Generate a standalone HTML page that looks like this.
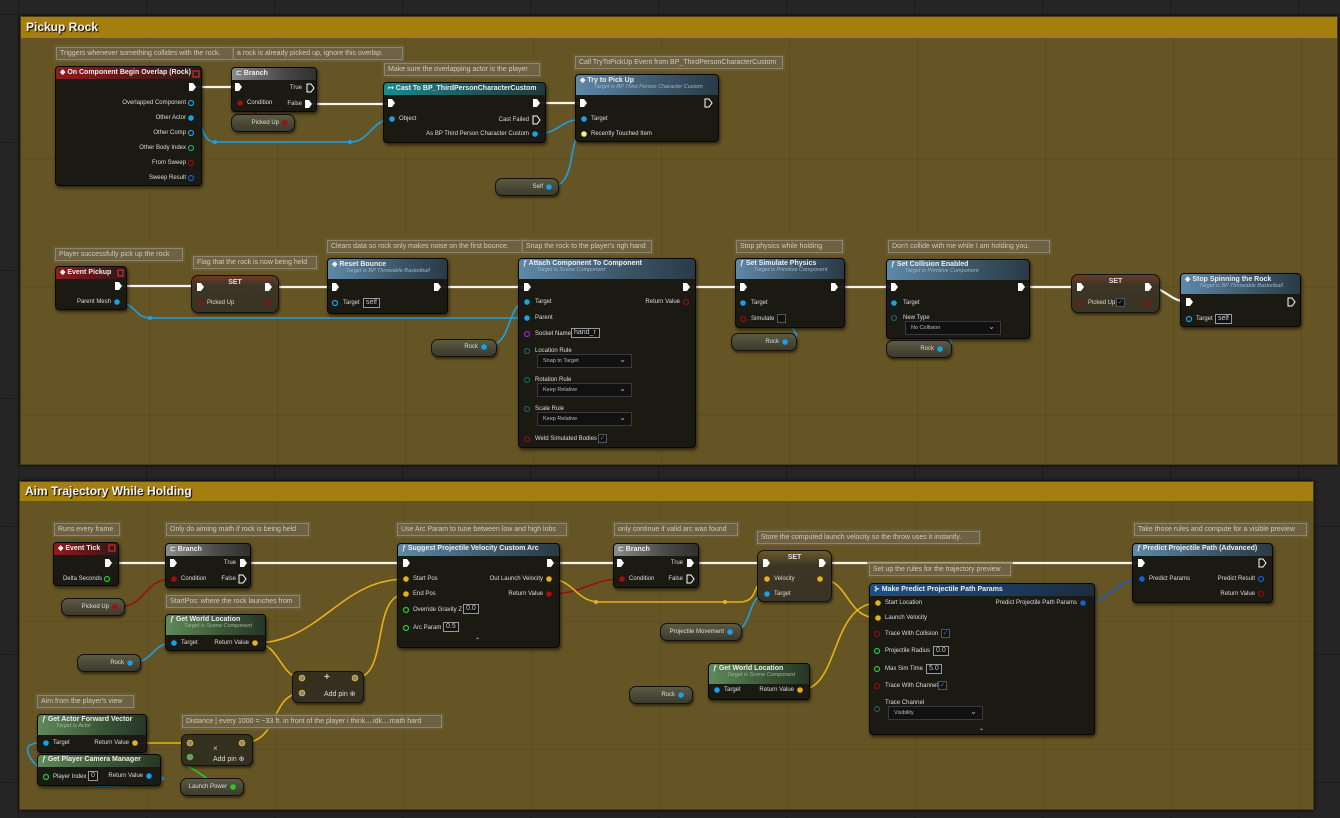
<!DOCTYPE html>
<html><head><meta charset="utf-8"><style>
*{margin:0;padding:0;box-sizing:border-box}
body{width:1340px;height:818px;overflow:hidden;position:relative;background:#252525;font-family:"Liberation Sans",sans-serif;color:#ddd}
.grid{position:absolute;inset:0;background-image:linear-gradient(#1c1c1c 1px,transparent 1px),linear-gradient(90deg,#1c1c1c 1px,transparent 1px);background-size:128px 128px;background-position:18px 14px}
.cb{position:absolute;background:#655424;border:1px solid #4a3e18;box-shadow:0 0 3px #000}
.cb .ch{height:21px;background:#a57e10;color:#f2f2f2;font-weight:bold;font-size:12px;padding:3px 5px;text-shadow:1px 1px 1px #000}
.cgrid{position:absolute;inset:22px 0 0 0;background-image:linear-gradient(rgba(0,0,0,.07) 1px,transparent 1px),linear-gradient(90deg,rgba(0,0,0,.07) 1px,transparent 1px);background-size:128px 128px;background-position:0 -8px}
.cm{position:absolute;height:13px;background:#6e6242;border:1px solid #8d8670;outline:2px solid rgba(110,100,70,.6);color:#cfc9b8;font-size:7px;line-height:11px;padding:0 3px;white-space:nowrap}
.n{position:absolute;background:rgba(22,22,18,.95);border:1px solid #070707;border-radius:4px;box-shadow:1px 2px 3px rgba(0,0,0,.6);overflow:hidden}
.h{height:12px;font-size:7px;font-weight:bold;color:#eee;padding:1px 4px;white-space:nowrap}
.h2{height:20px}
.h2 i{display:block;font-size:5.5px;font-weight:normal;color:#9cb5c8;padding-left:14px;font-style:italic}
.ev{background:linear-gradient(90deg,#8f1c1c,#5a1616 60%,#2a1a18)}
.br{background:linear-gradient(90deg,#8a8a8a,#4a4a4a 60%,#303030)}
.fn{background:linear-gradient(90deg,#5f89a8,#3b5668 60%,#2a3a46)}
.ca{background:linear-gradient(90deg,#1b8a8f,#1c5357 60%,#20393a)}
.pu{background:linear-gradient(90deg,#5f8a5a,#3a5436 60%,#263626)}
.pu i{color:#9fb897}
.mk{background:linear-gradient(90deg,#1f4f86,#1b3a5e 60%,#1e2c3c)}
.v{position:absolute;height:18px;border-radius:7px;background:linear-gradient(#5a5a44,#3c3a2c);border:1px solid #111;box-shadow:1px 2px 2px rgba(0,0,0,.5)}
.set{position:absolute;border-radius:7px;background:linear-gradient(#6a3a2a,#3c3424 30%,#3a3424);border:1px solid #111;box-shadow:1px 2px 2px rgba(0,0,0,.5);font-size:7px;font-weight:bold;text-align:center;color:#ddd;padding-top:3px}
.op{position:absolute;border-radius:6px;background:#33301f;border:1px solid #111;box-shadow:1px 2px 2px rgba(0,0,0,.5)}
.t{position:absolute;font-size:6px;white-space:nowrap;color:#ddd;line-height:8px}
.r{transform:translateX(-100%)}
.bx{position:absolute;border:1px solid #999;font-size:7px;line-height:8px;height:10px;padding:0 2px;color:#ccc;background:#111}
.dd{position:absolute;height:14px;background:#111;border:1px solid #3a3a3a;font-size:5.5px;color:#bbb;padding:3px 5px}
.dd:after{content:"⌄";position:absolute;right:5px;top:0px;font-size:8px}
.ck{position:absolute;width:9px;height:9px;background:#111;border:1px solid #555;font-size:7px;line-height:8px;color:#2a7dd8;text-align:center}
svg{position:absolute;left:0;top:0}
</style></head><body>
<div class="grid"></div>
<div class="cb" style="left:20px;top:16px;width:1318px;height:449px"><div class="ch">Pickup Rock</div><div class="cgrid"></div></div>
<div class="cb" style="left:19px;top:481px;width:1295px;height:329px"><div class="ch" style="height:19px;padding-top:2px">Aim Trajectory While Holding</div><div class="cgrid" style="top:19px"></div></div>

<!-- wires -->
<svg width="1340" height="818" fill="none">
<g stroke="#f4f4f4" stroke-width="2.2">
<path d="M192 87H238"/><path d="M308 104H391"/><path d="M536 103H583"/>
<path d="M118 286H200M268 287H335M437 287H527M686 287H743M834 287H894M1021 287H1080"/>
<path d="M1148 287C1165 287 1170 302 1189 302"/>
<path d="M108 563H173M243 563H406M550 563H620M690 563H766M822 563H1141"/>
</g>
<g stroke="#1aa0e8" stroke-width="1.6">
<path d="M191 118C205 118 200 142 215 142H350C370 142 372 119 392 119"/>
<path d="M535 134C560 134 560 119 584 119"/>
<path d="M549 187C580 187 565 134 584 134"/>
<path d="M117 302C135 302 135 318 150 318H505C520 318 515 318 527 318"/>
<path d="M484 347C515 347 505 302 527 302"/>
<path d="M785 342C810 342 790 318 760 310C730 300 735 303 743 303"/>
<path d="M940 349C965 349 945 325 905 312C880 303 885 303 894 303"/>
<path d="M130 663C155 663 150 643 174 643"/>
<path d="M730 632C755 632 745 594 767 594"/>
<path d="M149 776C180 776 160 786 100 786C40 786 20 750 30 745C36 742 40 743 46 743"/>
</g>
<path d="M1083 603C1110 603 1115 579 1142 579" stroke="#1a5fd0" stroke-width="1.6"/>
<g stroke="#9a1010" stroke-width="1.6">
<path d="M285 123C260 123 255 110 240 103"/>
<path d="M115 607C150 607 140 579 174 579"/>
<path d="M549 594C585 594 590 579 622 579"/>
</g>
<g stroke="#e6b21a" stroke-width="1.6">
<path d="M255 643C320 643 340 579 406 579"/>
<path d="M255 643C280 643 280 678 302 678"/>
<path d="M355 678C390 678 370 594 406 594"/>
<path d="M242 743C280 743 270 693 302 693"/>
<path d="M135 743H190"/>
<path d="M549 579C575 579 575 602 600 602H740C760 602 752 579 767 579"/>
<path d="M820 579C850 579 845 618 878 618"/>
<path d="M800 690C840 690 830 603 878 603"/>
</g>
<path d="M233 787C210 787 200 770 185 765C180 760 182 757 190 757" stroke="#2ec62e" stroke-width="1.6"/>
</svg>

<!-- comments -->
<div class="cm" style="left:56px;top:47px;width:177px">Triggers whenever something collides with the rock.</div>
<div class="cm" style="left:233px;top:47px;width:170px">a rock is already picked up, ignore this overlap.</div>
<div class="cm" style="left:384px;top:63px;width:156px">Make sure the overlapping actor is the player</div>
<div class="cm" style="left:575px;top:56px;width:208px">Call TryToPickUp Event from BP_ThirdPersonCharacterCustom</div>
<div class="cm" style="left:55px;top:248px;width:128px">Player successfully pick up the rock</div>
<div class="cm" style="left:193px;top:256px;width:124px">Flag that the rock is now being held</div>
<div class="cm" style="left:327px;top:240px;width:195px">Clears data so rock only makes noise on the first bounce.</div>
<div class="cm" style="left:522px;top:240px;width:130px">Snap the rock to the player's righ hand</div>
<div class="cm" style="left:736px;top:240px;width:107px">Stop physics while holding</div>
<div class="cm" style="left:888px;top:240px;width:162px">Don't collide with me while I am holding you.</div>
<div class="cm" style="left:54px;top:523px;width:66px">Runs every frame</div>
<div class="cm" style="left:166px;top:523px;width:143px">Only do aiming math if rock is being held</div>
<div class="cm" style="left:166px;top:595px;width:134px">StartPos: where the rock launches from</div>
<div class="cm" style="left:37px;top:695px;width:97px">Aim from the player's view</div>
<div class="cm" style="left:182px;top:715px;width:260px">Distance | every 1000 = ~33 ft. in front of the player i think....idk....math hard</div>
<div class="cm" style="left:397px;top:523px;width:170px">Use Arc Param to tune between low and high lobs</div>
<div class="cm" style="left:614px;top:523px;width:124px">only continue if valid arc was found</div>
<div class="cm" style="left:757px;top:531px;width:223px">Store the computed launch velocity so the throw uses it instantly.</div>
<div class="cm" style="left:869px;top:563px;width:142px">Set up the rules for the trajectory preview</div>
<div class="cm" style="left:1134px;top:523px;width:173px">Take those rules and compute for a visible preview</div>

<!-- nodes top -->
<div class="n" style="left:55px;top:66px;width:147px;height:120px"><div class="h ev">◆ On Component Begin Overlap (Rock)</div></div>
<div class="n" style="left:231px;top:67px;width:86px;height:45px"><div class="h br">⊏ Branch</div></div>
<div class="v" style="left:231px;top:114px;width:64px"></div>
<div class="n" style="left:383px;top:82px;width:163px;height:61px"><div class="h ca">↦ Cast To BP_ThirdPersonCharacterCustom</div></div>
<div class="n" style="left:575px;top:74px;width:144px;height:68px"><div class="h h2 fn">◆ Try to Pick Up<i>Target is BP Third Person Character Custom</i></div></div>
<div class="v" style="left:495px;top:178px;width:64px"></div>

<div class="n" style="left:55px;top:266px;width:72px;height:44px"><div class="h ev">◆ Event Pickup</div></div>
<div class="set" style="left:191px;top:275px;width:88px;height:38px">SET</div>
<div class="n" style="left:327px;top:258px;width:121px;height:56px"><div class="h h2 fn">◆ Reset Bounce<i>Target is BP Throwable Basketball</i></div></div>
<div class="v" style="left:431px;top:339px;width:66px"></div>
<div class="n" style="left:518px;top:258px;width:178px;height:190px"><div class="h h2 fn">ƒ Attach Component To Component<i>Target is Scene Component</i></div></div>
<div class="n" style="left:735px;top:258px;width:110px;height:70px"><div class="h h2 fn">ƒ Set Simulate Physics<i>Target is Primitive Component</i></div></div>
<div class="v" style="left:731px;top:333px;width:66px"></div>
<div class="n" style="left:886px;top:259px;width:144px;height:80px"><div class="h h2 fn">ƒ Set Collision Enabled<i>Target is Primitive Component</i></div></div>
<div class="v" style="left:886px;top:340px;width:66px"></div>
<div class="set" style="left:1071px;top:274px;width:89px;height:39px">SET</div>
<div class="n" style="left:1180px;top:273px;width:121px;height:54px"><div class="h h2 fn">◆ Stop Spinning the Rock<i>Target is BP Throwable Basketball</i></div></div>

<!-- nodes bottom -->
<div class="n" style="left:53px;top:542px;width:66px;height:44px"><div class="h ev">◆ Event Tick</div></div>
<div class="n" style="left:165px;top:543px;width:86px;height:45px"><div class="h br">⊏ Branch</div></div>
<div class="v" style="left:61px;top:598px;width:64px"></div>
<div class="n" style="left:165px;top:614px;width:101px;height:37px"><div class="h h2 pu">ƒ Get World Location<i>Target is Scene Component</i></div></div>
<div class="v" style="left:77px;top:654px;width:64px"></div>
<div class="op" style="left:292px;top:671px;width:72px;height:32px"></div>
<div class="n" style="left:37px;top:714px;width:110px;height:39px"><div class="h h2 pu">ƒ Get Actor Forward Vector<i>Target is Actor</i></div></div>
<div class="n" style="left:37px;top:754px;width:124px;height:32px"><div class="h pu">ƒ Get Player Camera Manager</div></div>
<div class="op" style="left:181px;top:734px;width:72px;height:32px"></div>
<div class="v" style="left:180px;top:778px;width:64px"></div>
<div class="n" style="left:397px;top:543px;width:163px;height:105px"><div class="h fn">ƒ Suggest Projectile Velocity Custom Arc</div></div>
<div class="n" style="left:613px;top:543px;width:86px;height:45px"><div class="h br">⊏ Branch</div></div>
<div class="set" style="left:757px;top:550px;width:75px;height:52px;background:linear-gradient(#6a5a2a,#3c3424 30%,#3a3424)">SET</div>
<div class="v" style="left:660px;top:623px;width:82px"></div>
<div class="n" style="left:869px;top:583px;width:226px;height:152px"><div class="h mk">⊱ Make Predict Projectile Path Params</div></div>
<div class="n" style="left:708px;top:663px;width:102px;height:37px"><div class="h h2 pu">ƒ Get World Location<i>Target is Scene Component</i></div></div>
<div class="v" style="left:629px;top:686px;width:64px"></div>
<div class="n" style="left:1132px;top:543px;width:141px;height:60px"><div class="h fn">ƒ Predict Projectile Path (Advanced)</div></div>

<!-- labels -->
<div class="t r" style="left:186px;top:99px">Overlapped Component</div>
<div class="t r" style="left:186px;top:114px">Other Actor</div>
<div class="t r" style="left:186px;top:129px">Other Comp</div>
<div class="t r" style="left:186px;top:144px">Other Body Index</div>
<div class="t r" style="left:186px;top:159px">From Sweep</div>
<div class="t r" style="left:186px;top:174px">Sweep Result</div>
<div class="t r" style="left:302px;top:84px">True</div>
<div class="t" style="left:247px;top:99px">Condition</div>
<div class="t r" style="left:302px;top:100px">False</div>
<div class="t r" style="left:279px;top:119px">Picked Up</div>
<div class="t" style="left:399px;top:115px">Object</div>
<div class="t r" style="left:529px;top:116px">Cast Failed</div>
<div class="t r" style="left:529px;top:130px">As BP Third Person Character Custom</div>
<div class="t" style="left:591px;top:115px">Target</div>
<div class="t" style="left:591px;top:130px">Recently Touched Item</div>
<div class="t r" style="left:543px;top:183px">Self</div>

<div class="t r" style="left:111px;top:298px">Parent Mesh</div>
<div class="t" style="left:207px;top:299px">Picked Up</div>
<div class="t" style="left:343px;top:299px">Target</div>
<div class="bx" style="left:363px;top:298px">self</div>
<div class="t r" style="left:478px;top:343px">Rock</div>
<div class="t" style="left:535px;top:298px">Target</div>
<div class="t" style="left:535px;top:314px">Parent</div>
<div class="t" style="left:535px;top:330px">Socket Name</div>
<div class="bx" style="left:571px;top:328px;width:29px">hand_r</div>
<div class="t r" style="left:680px;top:298px">Return Value</div>
<div class="t" style="left:535px;top:347px">Location Rule</div>
<div class="dd" style="left:537px;top:354px;width:95px">Snap to Target</div>
<div class="t" style="left:535px;top:376px">Rotation Rule</div>
<div class="dd" style="left:537px;top:383px;width:95px">Keep Relative</div>
<div class="t" style="left:535px;top:405px">Scale Rule</div>
<div class="dd" style="left:537px;top:412px;width:95px">Keep Relative</div>
<div class="t" style="left:535px;top:435px">Weld Simulated Bodies</div>
<div class="ck" style="left:598px;top:434px">✓</div>
<div class="t" style="left:751px;top:299px">Target</div>
<div class="t" style="left:751px;top:315px">Simulate</div>
<div class="ck" style="left:777px;top:314px"></div>
<div class="t r" style="left:779px;top:338px">Rock</div>
<div class="t" style="left:903px;top:299px">Target</div>
<div class="t" style="left:903px;top:314px">New Type</div>
<div class="dd" style="left:905px;top:321px;width:96px">No Collision</div>
<div class="t r" style="left:934px;top:345px">Rock</div>
<div class="t" style="left:1088px;top:299px">Picked Up</div>
<div class="ck" style="left:1116px;top:298px">✓</div>
<div class="t" style="left:1196px;top:315px">Target</div>
<div class="bx" style="left:1215px;top:314px">self</div>

<div class="t r" style="left:102px;top:575px">Delta Seconds</div>
<div class="t r" style="left:236px;top:559px">True</div>
<div class="t" style="left:181px;top:575px">Condition</div>
<div class="t r" style="left:236px;top:575px">False</div>
<div class="t r" style="left:109px;top:603px">Picked Up</div>
<div class="t" style="left:181px;top:639px">Target</div>
<div class="t r" style="left:249px;top:639px">Return Value</div>
<div class="t r" style="left:124px;top:659px">Rock</div>
<div class="t" style="left:324px;top:674px;font-size:10px;font-weight:bold;color:#ccc">+</div>
<div class="t" style="left:324px;top:691px;font-size:7px">Add pin ⊕</div>
<div class="t" style="left:53px;top:739px">Target</div>
<div class="t r" style="left:129px;top:739px">Return Value</div>
<div class="t" style="left:53px;top:773px">Player Index</div>
<div class="bx" style="left:88px;top:771px">0</div>
<div class="t r" style="left:143px;top:772px">Return Value</div>
<div class="t" style="left:213px;top:745px;font-size:8px;color:#ccc">×</div>
<div class="t" style="left:213px;top:756px;font-size:7px">Add pin ⊕</div>
<div class="t r" style="left:227px;top:783px">Launch Power</div>
<div class="t" style="left:413px;top:575px">Start Pos</div>
<div class="t" style="left:413px;top:590px">End Pos</div>
<div class="t" style="left:413px;top:606px">Override Gravity Z</div>
<div class="bx" style="left:463px;top:604px">0.0</div>
<div class="t" style="left:413px;top:624px">Arc Param</div>
<div class="bx" style="left:443px;top:622px">0.5</div>
<div class="t" style="left:475px;top:637px">⌃</div>
<div class="t r" style="left:543px;top:575px">Out Launch Velocity</div>
<div class="t r" style="left:543px;top:590px">Return Value</div>
<div class="t r" style="left:683px;top:559px">True</div>
<div class="t" style="left:629px;top:575px">Condition</div>
<div class="t r" style="left:683px;top:575px">False</div>
<div class="t" style="left:774px;top:575px">Velocity</div>
<div class="t" style="left:774px;top:590px">Target</div>
<div class="t r" style="left:724px;top:628px">Projectile Movement</div>
<div class="t" style="left:885px;top:599px">Start Location</div>
<div class="t" style="left:885px;top:614px">Launch Velocity</div>
<div class="t" style="left:885px;top:630px">Trace With Collision</div>
<div class="ck" style="left:941px;top:629px">✓</div>
<div class="t" style="left:885px;top:647px">Projectile Radius</div>
<div class="bx" style="left:933px;top:646px">0.0</div>
<div class="t" style="left:885px;top:665px">Max Sim Time</div>
<div class="bx" style="left:926px;top:664px">5.0</div>
<div class="t" style="left:885px;top:682px">Trace With Channel</div>
<div class="ck" style="left:938px;top:681px">✓</div>
<div class="t" style="left:885px;top:699px">Trace Channel</div>
<div class="dd" style="left:888px;top:706px;width:95px">Visibility</div>
<div class="t" style="left:979px;top:725px">⌄</div>
<div class="t r" style="left:1077px;top:599px">Predict Projectile Path Params</div>
<div class="t" style="left:724px;top:686px">Target</div>
<div class="t r" style="left:794px;top:686px">Return Value</div>
<div class="t r" style="left:675px;top:691px">Rock</div>
<div class="t" style="left:1149px;top:575px">Predict Params</div>
<div class="t r" style="left:1255px;top:575px">Predict Result</div>
<div class="t r" style="left:1255px;top:590px">Return Value</div>

<!-- pins -->
<svg width="1340" height="818">
<defs><polygon id="ex" points="-3,-4 1,-4 4,0 1,4 -3,4" fill="#fff"/><polygon id="exo" points="-3,-4 1,-4 4,0 1,4 -3,4" fill="none" stroke="#fff" stroke-width="1"/></defs>
<g>
<use href="#ex" x="192" y="87"/><use href="#ex" x="238" y="87"/><use href="#exo" x="310" y="88"/><use href="#ex" x="308" y="104"/>
<use href="#ex" x="391" y="103"/><use href="#ex" x="536" y="103"/><use href="#exo" x="536" y="120"/>
<use href="#ex" x="583" y="103"/><use href="#exo" x="708" y="103"/>
<use href="#ex" x="118" y="286"/><use href="#ex" x="200" y="287"/><use href="#ex" x="268" y="287"/><use href="#ex" x="335" y="287"/><use href="#ex" x="437" y="287"/>
<use href="#ex" x="527" y="287"/><use href="#ex" x="686" y="287"/><use href="#ex" x="743" y="287"/><use href="#ex" x="834" y="287"/>
<use href="#ex" x="894" y="287"/><use href="#ex" x="1021" y="287"/><use href="#ex" x="1080" y="287"/><use href="#ex" x="1148" y="287"/>
<use href="#ex" x="1189" y="302"/><use href="#exo" x="1291" y="302"/>
<use href="#ex" x="108" y="563"/><use href="#ex" x="173" y="563"/><use href="#ex" x="243" y="563"/><use href="#exo" x="242" y="579"/>
<use href="#ex" x="406" y="563"/><use href="#ex" x="550" y="563"/><use href="#ex" x="620" y="563"/><use href="#ex" x="690" y="563"/><use href="#exo" x="690" y="579"/>
<use href="#ex" x="766" y="563"/><use href="#ex" x="822" y="563"/><use href="#ex" x="1141" y="563"/><use href="#exo" x="1262" y="563"/>
</g>
<g fill="#1aa0e8">
<circle cx="191" cy="118" r="2.8"/><circle cx="392" cy="119" r="2.8"/><circle cx="535" cy="134" r="2.8"/><circle cx="584" cy="119" r="2.8"/><circle cx="549" cy="187" r="2.8"/>
<circle cx="117" cy="302" r="2.8"/><circle cx="527" cy="302" r="2.8"/><circle cx="527" cy="318" r="2.8"/><circle cx="484" cy="347" r="2.8"/>
<circle cx="743" cy="303" r="2.8"/><circle cx="785" cy="342" r="2.8"/><circle cx="894" cy="303" r="2.8"/><circle cx="940" cy="349" r="2.8"/>
<circle cx="174" cy="643" r="2.8"/><circle cx="130" cy="663" r="2.8"/><circle cx="46" cy="743" r="2.8"/><circle cx="149" cy="776" r="2.8"/>
<circle cx="767" cy="594" r="2.8"/><circle cx="730" cy="632" r="2.8"/><circle cx="717" cy="690" r="2.8"/><circle cx="681" cy="695" r="2.8"/>
<circle cx="150" cy="318" r="2"/><circle cx="215" cy="142" r="2"/><circle cx="350" cy="142" r="2"/>
</g>
<g fill="none" stroke="#1aa0e8" stroke-width="1.2">
<circle cx="191" cy="103" r="2.5"/><circle cx="191" cy="133" r="2.5"/><circle cx="335" cy="303" r="2.5"/><circle cx="1189" cy="319" r="2.5"/>
</g>
<g fill="none" stroke="#1a5fd0" stroke-width="1.2"><circle cx="191" cy="178" r="2.5"/><circle cx="1261" cy="579" r="2.5"/></g>
<g fill="#1a5fd0"><circle cx="1083" cy="603" r="2.8"/><circle cx="1142" cy="579" r="2.8"/></g>
<g fill="none" stroke="#1aa878" stroke-width="1.2"><circle cx="191" cy="148" r="2.5"/></g>
<g fill="none" stroke="#1a6060" stroke-width="1.2"><circle cx="527" cy="351" r="2.5"/><circle cx="527" cy="380" r="2.5"/><circle cx="527" cy="409" r="2.5"/><circle cx="894" cy="318" r="2.5"/><circle cx="877" cy="709" r="2.5"/></g>
<g fill="none" stroke="#8a1010" stroke-width="1.2">
<circle cx="191" cy="163" r="2.5"/><circle cx="201" cy="303" r="2.5"/><circle cx="268" cy="303" r="2.5"/><circle cx="686" cy="302" r="2.5"/><circle cx="527" cy="439" r="2.5"/>
<circle cx="743" cy="319" r="2.5"/><circle cx="1080" cy="303" r="2.5"/><circle cx="1148" cy="303" r="2.5"/><circle cx="877" cy="634" r="2.5"/><circle cx="877" cy="686" r="2.5"/><circle cx="1261" cy="594" r="2.5"/>
</g>
<g fill="#a01010"><circle cx="240" cy="103" r="2.8"/><circle cx="285" cy="123" r="2.8"/><circle cx="174" cy="579" r="2.8"/><circle cx="115" cy="607" r="2.8"/><circle cx="549" cy="594" r="2.8"/><circle cx="622" cy="579" r="2.8"/></g>
<g fill="#e6b21a"><circle cx="255" cy="643" r="2.8"/><circle cx="406" cy="579" r="2.8"/><circle cx="406" cy="594" r="2.8"/><circle cx="135" cy="743" r="2.8"/><circle cx="549" cy="579" r="2.8"/><circle cx="767" cy="579" r="2.8"/><circle cx="820" cy="579" r="2.8"/><circle cx="878" cy="603" r="2.8"/><circle cx="878" cy="618" r="2.8"/><circle cx="800" cy="690" r="2.8"/><circle cx="596" cy="602" r="2"/><circle cx="725" cy="602" r="2"/></g>
<g fill="#888" stroke="#e6b21a" stroke-width="1"><circle cx="302" cy="678" r="2.8"/><circle cx="302" cy="693" r="2.8"/><circle cx="355" cy="678" r="2.8"/><circle cx="190" cy="743" r="2.8"/><circle cx="242" cy="743" r="2.8"/></g>
<circle cx="190" cy="757" r="2.8" fill="#888" stroke="#2ec62e"/>
<circle cx="233" cy="787" r="2.8" fill="#2ec62e"/>
<circle cx="584" cy="134" r="2.8" fill="#eeee90"/>
<g fill="none" stroke="#8a2cd0" stroke-width="1.2"><circle cx="527" cy="334" r="2.5"/></g>
<g fill="none" stroke="#2ec62e" stroke-width="1.2"><circle cx="107" cy="579" r="2.5"/><circle cx="406" cy="610" r="2.5"/><circle cx="406" cy="628" r="2.5"/><circle cx="46" cy="777" r="2.5"/><circle cx="877" cy="651" r="2.5"/><circle cx="877" cy="669" r="2.5"/></g>
<rect x="193" y="71" width="6" height="6" fill="none" stroke="#e33" stroke-width="1"/>
<rect x="118" y="270" width="5" height="6" fill="none" stroke="#e33" stroke-width="1"/>
<rect x="109" y="545" width="6" height="6" fill="none" stroke="#e33" stroke-width="1"/>
</svg>
</body></html>
